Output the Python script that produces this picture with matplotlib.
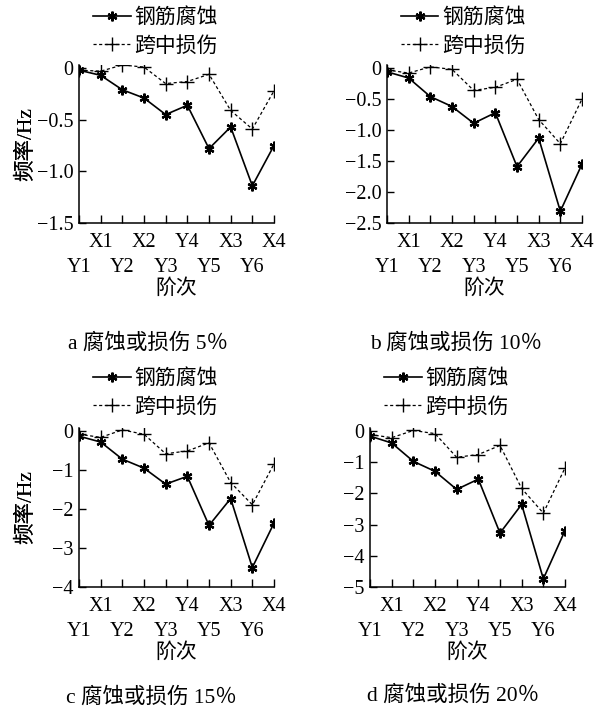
import matplotlib
matplotlib.use("Agg")
import matplotlib.pyplot as plt

plt.rcParams['font.family'] = ['Liberation Serif', 'Noto Sans CJK SC', 'DejaVu Sans']
plt.rcParams['axes.unicode_minus'] = True

orders = ["Y1", "X1", "Y2", "X2", "Y3", "Y4", "Y5", "X3", "Y6", "X4"]
series_names = ["钢筋腐蚀", "跨中损伤"]

corrosion_5 = [-0.02, -0.07, -0.21, -0.29, -0.45, -0.36, -0.78, -0.57, -1.14, -0.75]
damage_5 = [-0.02, -0.03, 0.03, 0.01, -0.15, -0.13, -0.06, -0.41, -0.59, -0.22]

corrosion_10 = [-0.06, -0.16, -0.46, -0.62, -0.89, -0.72, -1.59, -1.13, -2.31, -1.55]
damage_10 = [-0.03, -0.08, 0.02, -0.02, -0.36, -0.31, -0.18, -0.83, -1.22, -0.50]

corrosion_15 = [-0.13, -0.28, -0.72, -0.95, -1.36, -1.16, -2.42, -1.73, -3.50, -2.36]
damage_15 = [-0.08, -0.16, 0.03, -0.08, -0.58, -0.51, -0.30, -1.32, -1.89, -0.84]

corrosion_20 = [-0.16, -0.38, -0.97, -1.29, -1.87, -1.54, -3.27, -2.35, -4.74, -3.19]
damage_20 = [-0.11, -0.21, 0.02, -0.08, -0.84, -0.75, -0.46, -1.84, -2.63, -1.18]

captions = ["a 腐蚀或损伤 5％", "b 腐蚀或损伤 10％", "c 腐蚀或损伤 15％", "d 腐蚀或损伤 20％"]
y_ticks = [[0, -0.5, -1.0, -1.5], [0, -0.5, -1.0, -1.5, -2.0, -2.5],
           [0, -1, -2, -3, -4], [0, -1, -2, -3, -4, -5]]
y_ticklabels = [["0", "−0.5", "−1.0", "−1.5"],
                ["0", "−0.5", "−1.0", "−1.5", "−2.0", "−2.5"],
                ["0", "−1", "−2", "−3", "−4"],
                ["0", "−1", "−2", "−3", "−4", "−5"]]

data = [(corrosion_5, damage_5), (corrosion_10, damage_10),
        (corrosion_15, damage_15), (corrosion_20, damage_20)]

W, H = 596, 715
fig = plt.figure(figsize=(W / 100, H / 100), dpi=100)

# panel geometry in pixels: left, top, bottom
geom = [(79, 65, 223), (387, 65, 223), (79, 428, 587), (370, 428, 587)]
legend_pos = [(93, 8), (401, 8), (93, 369), (384, 369)]
caption_pos = [(68, 343), (370, 343), (66, 697), (367, 695)]
axw = 195
fs_tick = 14.5
fs_cjk = 15

for i, ((left, top, bottom), (c, d)) in enumerate(zip(geom, data)):
    ax = fig.add_axes([left / W, 1 - bottom / H, axw / W, (bottom - top) / H])
    x = list(range(len(orders)))
    ax.plot(x, c, color='black', lw=1.2, marker=(6, 2, 0), ms=7, mew=1.6,
            label=series_names[0])
    ax.plot(x, d, color='black', lw=0.9, ls=(0, (2.5, 2)), marker='+', ms=10,
            mew=1.0, label=series_names[1])
    yt = y_ticks[i]
    ymin = yt[-1]
    rng = -ymin
    ax.set_ylim(ymin, 0.02 * rng)
    ax.set_xlim(0, 9)
    ax.set_yticks(yt)
    ax.set_yticklabels(y_ticklabels[i], fontsize=fs_tick)
    for s in ['top', 'right']:
        ax.spines[s].set_visible(False)
    for s in ['left', 'bottom']:
        ax.spines[s].set_linewidth(1.1)
    # x ticks: top row (odd) as major, bottom row (even) as minor
    odd = [k for k in x if k % 2 == 1]
    even = [k for k in x if k % 2 == 0]
    ax.set_xticks(odd)
    ax.set_xticklabels([orders[k] for k in odd], fontsize=fs_tick)
    ax.set_xticks(even, minor=True)
    ax.set_xticklabels([orders[k] for k in even], minor=True, fontsize=fs_tick)
    ax.tick_params(axis='x', which='major', direction='in', length=6, width=1, pad=7)
    ax.tick_params(axis='x', which='minor', direction='in', length=6, width=1, pad=25)
    ax.tick_params(axis='y', direction='in', length=5, width=1, pad=4)
    ax.text(0.5, -66 / (bottom - top), "阶次", transform=ax.transAxes,
            ha='center', va='center', fontsize=fs_cjk)
    ax.set_ylabel("频率/Hz", fontsize=fs_cjk + 0.5)
    ax.yaxis.set_label_coords((36 - left) / axw, 0.5)
    lx, ly = legend_pos[i]
    ax.legend(loc='upper left', bbox_to_anchor=(lx / W, 1 - ly / H),
              bbox_transform=fig.transFigure, frameon=False, fontsize=fs_cjk,
              handlelength=1.8, handletextpad=0.2, borderpad=0, borderaxespad=0,
              labelspacing=0.42)
    cx, cy = caption_pos[i]
    fig.text(cx / W, 1 - cy / H, captions[i], ha='left', va='center', fontsize=fs_cjk + 0.5)

fig.savefig("out.png", dpi=100)
